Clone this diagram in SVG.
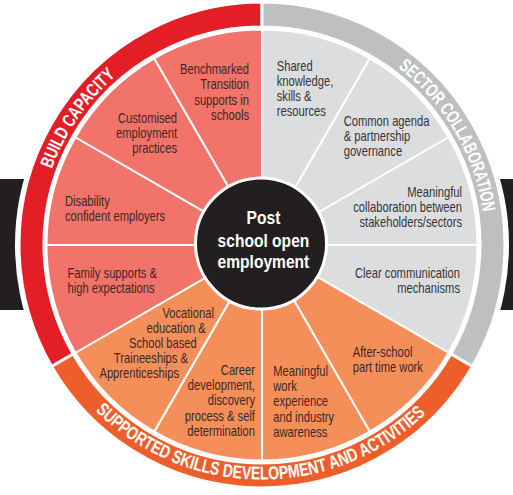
<svg xmlns="http://www.w3.org/2000/svg" width="513" height="495" viewBox="0 0 513 495">
<defs>
<style>
.t{font-family:"Liberation Sans",Arial,sans-serif;font-size:14px;fill:#3d2824}
.tg{fill:#363636}
.e{text-anchor:end}
.ring{stroke:#fff;stroke-width:3;stroke-linejoin:miter}
.sec{stroke:#fff;stroke-width:2}
.r{fill:#f1736a}
.g{fill:#dcdddf}
.o{fill:#f58f5a}
.rl{font-family:"Liberation Sans",Arial,sans-serif;font-weight:bold;font-size:18.5px;fill:#fff}
.c{font-family:"Liberation Sans",Arial,sans-serif;font-weight:bold;font-size:19px;fill:#fff;text-anchor:middle}
</style>
<path id="pBuild" d="M60.3,341.2 A223.5,223.5 0 0 1 279.5,22.2"/>
<path id="pSector" d="M260.05,21.5 A223.5,223.5 0 0 1 456.5,355.1"/>
<path id="pSupp" d="M40,323.6 A236,236 0 0 0 482.6,327.5"/>
</defs>
<rect x="0" y="179" width="513" height="131" fill="#231f20"/>
<circle cx="262" cy="245" r="247" fill="#fff"/>
<g id="ring-build-capacity">
<path class="ring" fill="#e31e26" d="M262,2 A243,243 0 0 0 51.56,366.5 L73.21,354 A218,218 0 0 1 262,27 Z"/>
<text class="rl"><textPath href="#pBuild" startOffset="50%" text-anchor="middle" textLength="114" lengthAdjust="spacingAndGlyphs">BUILD CAPACITY</textPath></text>
</g>
<g id="ring-sector-collaboration">
<path class="ring" fill="#bebfc1" d="M262,2 A243,243 0 0 1 472.44,366.5 L450.79,354 A218,218 0 0 0 262,27 Z"/>
<text class="rl"><textPath href="#pSector" startOffset="50%" text-anchor="middle" textLength="172" lengthAdjust="spacingAndGlyphs">SECTOR COLLABORATION</textPath></text>
</g>
<g id="ring-supported-skills">
<path class="ring" fill="#ee5e2b" d="M472.44,366.5 A243,243 0 0 1 51.56,366.5 L73.21,354 A218,218 0 0 0 450.79,354 Z"/>
<text class="rl"><textPath href="#pSupp" startOffset="50%" text-anchor="middle" textLength="366" lengthAdjust="spacingAndGlyphs">SUPPORTED SKILLS DEVELOPMENT AND ACTIVITIES</textPath></text>
</g>
<g id="sec-shared">
<path class="sec g" d="M262,245 L262,29.5 A215.5,215.5 0 0 1 369.75,58.4 Z"/>
<text class="t tg" transform="scale(0.8,1)"><tspan x="345.9" y="70.7">Shared</tspan><tspan x="345.9" y="86">knowledge,</tspan><tspan x="345.9" y="101.2">skills &amp;</tspan><tspan x="345.9" y="116.4">resources</tspan></text>
</g>
<g id="sec-common">
<path class="sec g" d="M262,245 L369.75,58.4 A215.5,215.5 0 0 1 448.6,137.25 Z"/>
<text class="t tg" transform="scale(0.8,1)"><tspan x="429.6" y="126">Common agenda</tspan><tspan x="429.6" y="141.2">&amp; partnership</tspan><tspan x="429.6" y="156.4">governance</tspan></text>
</g>
<g id="sec-collab">
<path class="sec g" d="M262,245 L448.6,137.25 A215.5,215.5 0 0 1 477.5,245 Z"/>
<text class="t tg e" transform="scale(0.8,1)"><tspan x="577.5" y="196.7">Meaningful</tspan><tspan x="577.5" y="212">collaboration between</tspan><tspan x="577.5" y="227.3">stakeholders/sectors</tspan></text>
</g>
<g id="sec-communication">
<path class="sec g" d="M262,245 L477.5,245 A215.5,215.5 0 0 1 448.6,352.75 Z"/>
<text class="t tg e" transform="scale(0.8,1)"><tspan x="575" y="278.3">Clear communication</tspan><tspan x="575" y="293.5">mechanisms</tspan></text>
</g>
<g id="sec-afterschool">
<path class="sec o" d="M262,245 L448.6,352.75 A215.5,215.5 0 0 1 369.75,431.6 Z"/>
<text class="t" transform="scale(0.8,1)"><tspan x="440.9" y="356.7">After-school</tspan><tspan x="440.9" y="372">part time work</tspan></text>
</g>
<g id="sec-work-experience">
<path class="sec o" d="M262,245 L369.75,431.6 A215.5,215.5 0 0 1 262,460.5 Z"/>
<text class="t" transform="scale(0.8,1)"><tspan x="341.6" y="375.7">Meaningful</tspan><tspan x="341.6" y="391">work</tspan><tspan x="341.6" y="406.3">experience</tspan><tspan x="341.6" y="421.6">and industry</tspan><tspan x="341.6" y="437">awareness</tspan></text>
</g>
<g id="sec-career">
<path class="sec o" d="M262,245 L262,460.5 A215.5,215.5 0 0 1 154.25,431.6 Z"/>
<text class="t e" transform="scale(0.8,1)"><tspan x="318.75" y="375">Career</tspan><tspan x="318.75" y="390.2">development,</tspan><tspan x="318.75" y="405.4">discovery</tspan><tspan x="318.75" y="420.6">process &amp; self</tspan><tspan x="318.75" y="435.8">determination</tspan></text>
</g>
<g id="sec-vocational">
<path class="sec o" d="M262,245 L154.25,431.6 A215.5,215.5 0 0 1 75.4,352.75 Z"/>
<text class="t e" transform="scale(0.8,1)"><tspan x="267.5" y="317.7">Vocational</tspan><tspan x="257.1" y="332.9">education &amp;</tspan><tspan x="245.9" y="348.1">School based</tspan><tspan x="235" y="363.3">Traineeships &amp;</tspan><tspan x="223.75" y="378.5">Apprenticeships</tspan></text>
</g>
<g id="sec-family">
<path class="sec r" d="M262,245 L75.4,352.75 A215.5,215.5 0 0 1 46.5,245 Z"/>
<text class="t" transform="scale(0.8,1)"><tspan x="84.4" y="278">Family supports &amp;</tspan><tspan x="84.4" y="293.2">high expectations</tspan></text>
</g>
<g id="sec-disability">
<path class="sec r" d="M262,245 L46.5,245 A215.5,215.5 0 0 1 75.4,137.25 Z"/>
<text class="t" transform="scale(0.8,1)"><tspan x="81.25" y="206">Disability</tspan><tspan x="81.25" y="221.4">confident employers</tspan></text>
</g>
<g id="sec-customised">
<path class="sec r" d="M262,245 L75.4,137.25 A215.5,215.5 0 0 1 154.25,58.4 Z"/>
<text class="t e" transform="scale(0.8,1)"><tspan x="221.25" y="123">Customised</tspan><tspan x="221.25" y="138.2">employment</tspan><tspan x="221.25" y="153.4">practices</tspan></text>
</g>
<g id="sec-benchmarked">
<path class="sec r" d="M262,245 L154.25,58.4 A215.5,215.5 0 0 1 262,29.5 Z"/>
<text class="t e" transform="scale(0.8,1)"><tspan x="311.25" y="74">Benchmarked</tspan><tspan x="311.25" y="89.3">Transition</tspan><tspan x="311.25" y="104.6">supports in</tspan><tspan x="311.25" y="119.9">schools</tspan></text>
</g>
<g id="center">
<circle cx="261" cy="243.5" r="65.5" fill="#231f20" stroke="#fff" stroke-width="3"/>
<text class="c" transform="scale(0.82,1)"><tspan x="321.3" y="224.5">Post</tspan><tspan x="321.3" y="247.5">school open</tspan><tspan x="321.3" y="268.5">employment</tspan></text>
</g>
</svg>
